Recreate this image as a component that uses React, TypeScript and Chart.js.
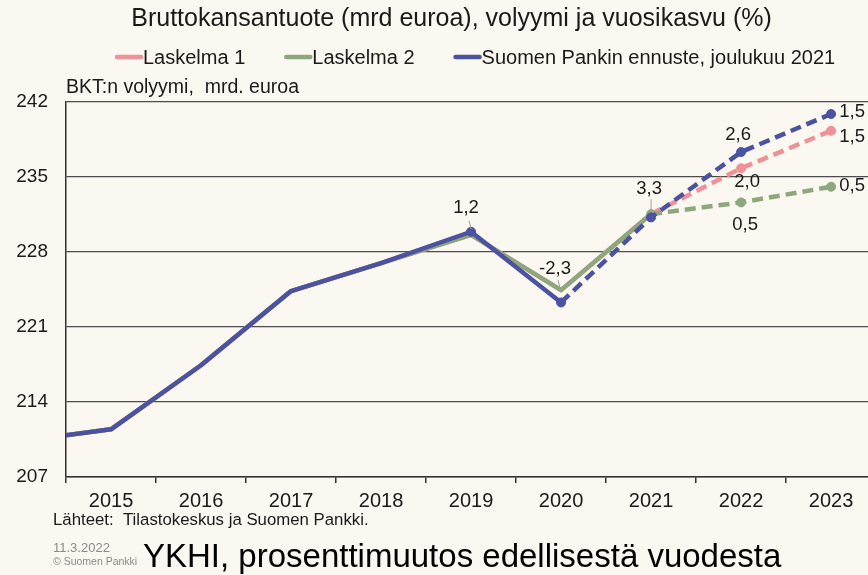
import React, { useEffect, useRef } from 'react';
import { Chart, registerables } from 'chart.js';

Chart.register(...registerables);

// ---------- DATA ----------
const years = [2014, 2015, 2016, 2017, 2018, 2019, 2020, 2021, 2022, 2023];
const laskelma1 = [210.34, 211.45, 217.43, 224.35, 226.96, 229.6, 224.44, 231.54, 235.81, 239.32];
const laskelma2 = [210.34, 211.45, 217.43, 224.35, 226.96, 229.6, 224.44, 231.54, 232.63, 234.09];
const pankinEnnuste = [210.34, 211.45, 217.43, 224.35, 226.96, 229.89, 223.29, 231.23, 237.33, 240.88];
const yMin = 207;
const yMax = 242;
const yStep = 7;
const xLabelYears = [2015, 2016, 2017, 2018, 2019, 2020, 2021, 2022, 2023];

const seriesNames = ['Laskelma 1', 'Laskelma 2', 'Suomen Pankin ennuste, joulukuu 2021'];
const growthTexts = ['1,2', '-2,3', '3,3', '2,6', '2,0', '0,5', '1,5', '1,5', '0,5'];
const growthSeries = ['l2', 'l2', 'l2', 'sp', 'l1', 'l2', 'sp', 'l1', 'l2'];
const growthYears = [2019, 2020, 2021, 2022, 2022, 2022, 2023, 2023, 2023];

// ---------- STYLE ----------
const FONT = '"Liberation Sans", Arial, Helvetica, sans-serif';
const BG = '#FBF7F1';
const PINK = '#EF9196';
const GREEN = '#8DA87C';
const BLUE = '#4C52A2';
const GRID = '#4d4d4d';
const TEXT = '#1a1a1a';

// label offsets (px) relative to the point they annotate
const labelPlacement: Record<string, { dx: number; dy: number; leader?: number[] }> = {
  '0': { dx: -5, dy: -27, leader: [-2, -14, 0, -6] },
  '1': { dx: -6, dy: -21, leader: [-3, -10, -1, -2] },
  '2': { dx: -2, dy: -25, leader: [0, -15, 0, -3] },
  '3': { dx: -3, dy: -17 },
  '4': { dx: 6, dy: 14 },
  '5': { dx: 4, dy: 23 },
  '6': { dx: 21, dy: -2 },
  '7': { dx: 21, dy: 6 },
  '8': { dx: 21, dy: -1 },
};

const toPoints = (vals: number[]) => years.map((y, i) => ({ x: y, y: vals[i] }));

const markerYearsBy: Record<string, number[]> = {
  l1: [2022, 2023],
  l2: [2021, 2022, 2023],
  sp: [2019, 2020, 2021, 2022, 2023],
};
const dashFromBy: Record<string, number> = { l1: 2021, l2: 2021, sp: 2020 };

const makeDataset = (key: string, label: string, vals: number[], color: string) => ({
  label,
  data: toPoints(vals),
  borderColor: color,
  backgroundColor: color,
  borderWidth: 4.5,
  borderJoinStyle: 'round' as const,
  borderCapStyle: 'butt' as const,
  tension: 0,
  pointRadius: (ctx: any) => (markerYearsBy[key].includes(years[ctx.dataIndex]) ? 4.5 : 0),
  pointHoverRadius: 0,
  pointBackgroundColor: color,
  pointBorderColor: color,
  pointBorderWidth: 1,
  clip: { left: 0, top: false, right: false, bottom: false } as any,
  segment: {
    borderDash: (ctx: any) => (years[ctx.p0DataIndex] >= dashFromBy[key] ? [11, 6] : undefined),
  },
  _key: key,
});

const textPlugin = {
  id: 'textPlugin',
  beforeDraw(chart: any) {
    const { ctx, width, height } = chart;
    ctx.save();
    ctx.fillStyle = BG;
    ctx.fillRect(0, 0, width, height);
    ctx.restore();
  },
  afterDraw(chart: any) {
    const { ctx } = chart;
    ctx.save();
    ctx.fillStyle = TEXT;
    ctx.textBaseline = 'alphabetic';
    // title
    ctx.font = `25px ${FONT}`;
    ctx.textAlign = 'center';
    ctx.fillText('Bruttokansantuote (mrd euroa), volyymi ja vuosikasvu (%)', 451.5, 26);
    // legend
    ctx.textAlign = 'left';
    ctx.font = `20px ${FONT}`;
    const colors = [PINK, GREEN, BLUE];
    let x = 116;
    seriesNames.forEach((name, i) => {
      ctx.strokeStyle = colors[i];
      ctx.lineWidth = 4.5;
      ctx.lineCap = 'round';
      ctx.beginPath();
      ctx.moveTo(x + 1, 57);
      ctx.lineTo(x + 25, 57);
      ctx.stroke();
      ctx.fillStyle = TEXT;
      ctx.fillText(name, x + 27, 64);
      x += 27 + ctx.measureText(name).width + 40;
    });
    // axis title
    ctx.font = `19.5px ${FONT}`;
    ctx.fillText('BKT:n volyymi,  mrd. euroa', 66, 93);
    // source
    ctx.font = `16.8px ${FONT}`;
    ctx.fillText('Lähteet:  Tilastokeskus ja Suomen Pankki.', 53, 525);
    // date / copyright
    ctx.fillStyle = '#8c8c8c';
    ctx.font = `13px ${FONT}`;
    ctx.fillText('11.3.2022', 53, 552);
    ctx.font = `10.5px ${FONT}`;
    ctx.fillText('© Suomen Pankki', 53, 565);
    // big footer
    ctx.fillStyle = '#000';
    ctx.font = `33px ${FONT}`;
    ctx.fillText('YKHI, prosenttimuutos edellisestä vuodesta', 143, 567);
    ctx.restore();
  },
};

const dataLabelPlugin = {
  id: 'dataLabelPlugin',
  afterDatasetsDraw(chart: any) {
    const { ctx } = chart;
    const keyToIndex: Record<string, number> = {};
    chart.data.datasets.forEach((ds: any, i: number) => (keyToIndex[ds._key] = i));
    ctx.save();
    ctx.font = `18.5px ${FONT}`;
    ctx.textAlign = 'center';
    ctx.textBaseline = 'middle';
    growthTexts.forEach((text, i) => {
      const meta = chart.getDatasetMeta(keyToIndex[growthSeries[i]]);
      const pt = meta.data[years.indexOf(growthYears[i])];
      if (!pt) return;
      const pl = labelPlacement[String(i)];
      if (pl.leader) {
        ctx.strokeStyle = '#a0a0a0';
        ctx.lineWidth = 1;
        ctx.beginPath();
        ctx.moveTo(pt.x + pl.leader[0], pt.y + pl.leader[1]);
        ctx.lineTo(pt.x + pl.leader[2], pt.y + pl.leader[3]);
        ctx.stroke();
      }
      ctx.fillStyle = TEXT;
      ctx.fillText(text, pt.x + pl.dx, pt.y + pl.dy);
    });
    ctx.restore();
  },
};

export default function App() {
  const ref = useRef<HTMLCanvasElement>(null);
  useEffect(() => {
    if (!ref.current) return;
    Chart.defaults.font.family = FONT;
    const xTickValues: number[] = [];
    xLabelYears.forEach((y) => {
      xTickValues.push(y - 0.5, y);
    });
    const chart = new Chart(ref.current, {
      type: 'line',
      data: {
        datasets: [
          makeDataset('sp', seriesNames[2], pankinEnnuste, BLUE),
          makeDataset('l2', seriesNames[1], laskelma2, GREEN),
          makeDataset('l1', seriesNames[0], laskelma1, PINK),
        ] as any,
      },
      options: {
        responsive: false,
        animation: false,
        devicePixelRatio: 1,
        layout: { autoPadding: false, padding: { top: 102, left: 0, right: 0, bottom: 0 } },
        plugins: {
          legend: { display: false },
          title: { display: false },
          tooltip: { enabled: false },
        },
        scales: {
          x: {
            type: 'linear',
            min: 2014.5,
            max: 2023.41,
            afterBuildTicks: (scale: any) => {
              scale.ticks = xTickValues.map((v) => ({ value: v }));
            },
            afterFit: (scale: any) => {
              scale.height = 98;
              scale.paddingLeft = 0;
              scale.paddingRight = 0;
            },
            grid: {
              drawOnChartArea: false,
              drawTicks: true,
              tickLength: 6,
              lineWidth: 1.5,
              color: (c: any) => (c.tick && Number.isInteger(c.tick.value) ? 'rgba(0,0,0,0)' : '#333'),
            },
            border: { display: true, color: '#333', width: 1.5 },
            ticks: {
              autoSkip: false,
              maxRotation: 0,
              minRotation: 0,
              padding: 6,
              color: TEXT,
              font: { size: 20, family: FONT },
              callback: (v: any) => (Number.isInteger(Number(v)) ? String(v) : ''),
            },
          },
          y: {
            type: 'linear',
            min: yMin,
            max: yMax,
            afterFit: (scale: any) => {
              scale.width = 66;
              scale.paddingTop = 0;
              scale.paddingBottom = 0;
            },
            grid: { color: GRID, lineWidth: 1.3, drawTicks: false },
            border: { display: true, color: '#333', width: 1.5 },
            ticks: {
              stepSize: yStep,
              padding: 18,
              color: TEXT,
              font: { size: 19, family: FONT },
            },
          },
        },
      },
      plugins: [textPlugin, dataLabelPlugin],
    } as any);
    return () => chart.destroy();
  }, []);
  return (
    <div style={{ position: 'fixed', left: 0, top: 0, width: 868, height: 575, background: BG }}>
      <canvas ref={ref} width={868} height={575} style={{ display: 'block' }} />
    </div>
  );
}
